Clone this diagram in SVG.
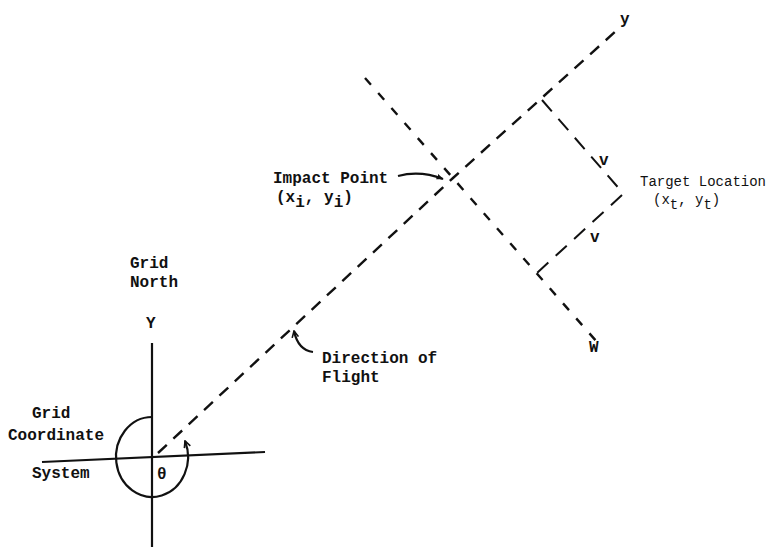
<svg xmlns="http://www.w3.org/2000/svg" width="777" height="547" viewBox="0 0 777 547">
<defs>
<style>
.lbl{font-family:"Liberation Mono","DejaVu Sans Mono",monospace;font-weight:bold;font-size:16px;fill:#111}
.thin{font-family:"Liberation Mono","DejaVu Sans Mono",monospace;font-size:14px;fill:#111}
.axis{stroke:#111;stroke-width:2.2;fill:none}
.dashA{stroke:#111;stroke-width:2.4;fill:none;stroke-dasharray:12 9}
.dashW{stroke:#111;stroke-width:2.4;fill:none;stroke-dasharray:9 11}
.dashT{stroke:#111;stroke-width:2;fill:none;stroke-dasharray:15 10}
.curve{stroke:#111;stroke-width:2.2;fill:none}
</style>
<marker id="headF" viewBox="0 0 10 10" refX="9" refY="5" markerWidth="7" markerHeight="7" orient="auto" markerUnits="userSpaceOnUse">
<path d="M0,1 L10,5 L0,9 z" fill="#111"/>
</marker>
<marker id="headO" viewBox="0 0 10 10" refX="9" refY="5" markerWidth="8" markerHeight="8" orient="auto" markerUnits="userSpaceOnUse">
<path d="M1,1 L9,5 L1,9" fill="none" stroke="#111" stroke-width="2"/>
</marker>
</defs>
<rect width="777" height="547" fill="#fff"/>

<g id="connectors">
<!-- grid axes -->
<line class="axis" x1="152" y1="343" x2="152" y2="547"/>
<line class="axis" x1="42" y1="462" x2="265" y2="452"/>
<!-- theta arc -->
<path class="curve" d="M152,417 A36,40 0 1,0 185,441" marker-end="url(#headO)"/>
<!-- direction of flight (y axis) -->
<path class="dashA" d="M158,453 L453,178 L616,31"/>
<!-- w axis -->
<line class="dashW" x1="365" y1="78" x2="597" y2="342"/>
<!-- target projections -->
<line class="dashT" x1="542" y1="100" x2="622" y2="192"/>
<line class="dashT" x1="622" y1="195" x2="537" y2="273"/>
<!-- label pointers -->
<path class="curve" d="M398,176 Q420,170 443,179" marker-end="url(#headF)"/>
<path class="curve" d="M313,352 Q298,350 294,331" marker-end="url(#headO)"/>
</g>

<g id="grid-north">
<text class="lbl" x="130" y="268">Grid</text>
<text class="lbl" x="130" y="287">North</text>
<text class="lbl" x="146" y="328">Y</text>
</g>

<g id="grid-system">
<text class="lbl" x="32" y="418">Grid</text>
<text class="lbl" x="8" y="440">Coordinate</text>
<text class="lbl" x="32" y="478">System</text>
<text class="lbl" x="157" y="479" font-size="14">θ</text>
</g>

<g id="impact-point">
<text class="lbl" x="273" y="183">Impact Point</text>
<text class="lbl" x="276" y="202">(x<tspan dy="5">i</tspan><tspan dy="-5">, y</tspan><tspan dy="5">i</tspan><tspan dy="-5">)</tspan></text>
</g>

<g id="direction-of-flight">
<text class="lbl" x="322" y="363">Direction of</text>
<text class="lbl" x="322" y="382">Flight</text>
</g>

<g id="target-location">
<text class="thin" x="640" y="186">Target Location</text>
<text class="thin" x="653" y="204">(x<tspan dy="5">t</tspan><tspan dy="-5">, y</tspan><tspan dy="5">t</tspan><tspan dy="-5">)</tspan></text>
</g>

<g id="axis-labels">
<text class="lbl" x="620" y="24">y</text>
<text class="lbl" x="589" y="352">W</text>
<text class="lbl" x="599" y="165" font-size="13">v</text>
<text class="lbl" x="590" y="242" font-size="13">v</text>
</g>
</svg>
